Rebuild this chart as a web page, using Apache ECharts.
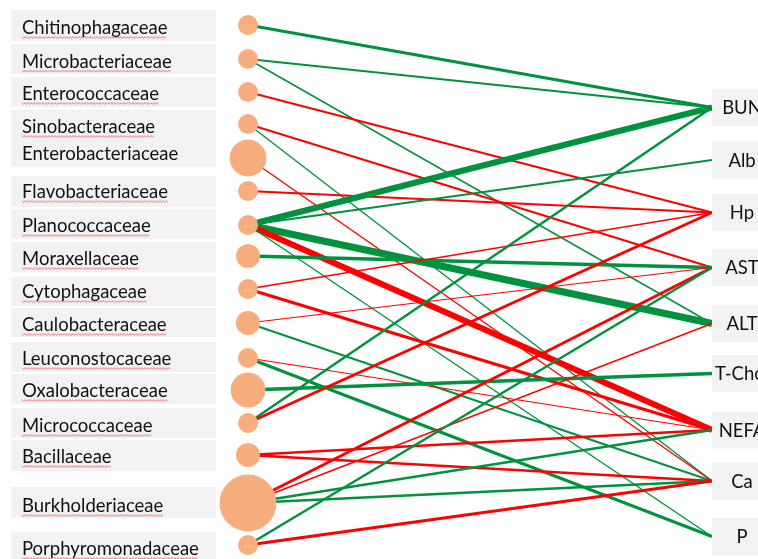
<!DOCTYPE html>
<html>
<head>
<meta charset="utf-8">
<script src="https://cdn.jsdelivr.net/npm/echarts@6/dist/echarts.min.js"></script>
<style>
html,body{margin:0;padding:0;background:#fff;}
#c{width:758px;height:559px;}
</style>
</head>
<body>
<div id="c"></div>
<script>
// ---------------- DATA ----------------
const bacteria = ['Chitinophagaceae','Microbacteriaceae','Enterococcaceae','Sinobacteraceae','Enterobacteriaceae',
  'Flavobacteriaceae','Planococcaceae','Moraxellaceae','Cytophagaceae','Caulobacteraceae','Leuconostocaceae',
  'Oxalobacteraceae','Micrococcaceae','Bacillaceae','Burkholderiaceae','Porphyromonadaceae'];
// relative abundance (circle area)
const abundance = [1, 1, 1, 1, 3.4, 1, 1, 1.45, 1, 1.45, 1, 3.05, 1, 1.45, 8.1, 1];

const parameters = ['BUN','Alb','Hp','AST','ALT','T-Chol','NEFA','Ca','P'];

// correlations (sign: green positive / red negative, magnitude -> line width)
const linkFrom = ['Chitinophagaceae','Microbacteriaceae','Microbacteriaceae','Enterococcaceae','Sinobacteraceae',
  'Sinobacteraceae','Enterobacteriaceae','Flavobacteriaceae','Planococcaceae','Planococcaceae','Planococcaceae',
  'Planococcaceae','Planococcaceae','Moraxellaceae','Cytophagaceae','Cytophagaceae','Caulobacteraceae',
  'Caulobacteraceae','Leuconostocaceae','Leuconostocaceae','Oxalobacteraceae','Micrococcaceae','Micrococcaceae',
  'Bacillaceae','Bacillaceae','Burkholderiaceae','Burkholderiaceae','Burkholderiaceae','Burkholderiaceae',
  'Porphyromonadaceae','Porphyromonadaceae'];
const linkTo = ['BUN','BUN','ALT','Hp','AST',
  'Ca','Ca','Hp','BUN','Alb','ALT',
  'NEFA','P','AST','Hp','NEFA','AST',
  'Ca','NEFA','P','T-Chol','BUN','Hp',
  'NEFA','Ca','AST','ALT','NEFA','Ca',
  'AST','Ca'];
const linkR = [0.62, 0.58, 0.56, -0.58, -0.58,
  0.556, -0.556, -0.58, 0.74, 0.58, 0.78,
  -0.75, 0.556, 0.64, -0.56, -0.62, -0.548,
  0.58, -0.548, 0.62, 0.64, 0.60, -0.62,
  -0.60, -0.60, -0.62, -0.556, 0.60, 0.60,
  0.60, -0.62];

// ---------------- LAYOUT ----------------
const bacteriaRow = [25, 59, 92, 124, 158, 191, 225, 256, 289, 323, 358, 390, 423, 455, 503, 545];
const bacteriaTextRow = [28, 61.7, 94, 127, 154, 192, 226, 259, 292, 325, 359, 391, 426, 457, 506, 549];
const labelBoxes = [[10,41],[44,74],[77,107],[110,167],[176,207],[209,239],[242,272],[277,306],[308,337],
  [342,372],[374,404],[408,438],[440,471],[487,518],[532,562]];
const paramRow = [107.5, 160, 212.5, 267.5, 323.5, 373.5, 430, 481, 536.5];

const NODE_X = 248, PARAM_X = 712, BOX_L = 11, BOX_R = 216, TEXT_X = 22, PBOX_W = 60, PBOX_H = 37;
const FONT_SIZE = 18.5, FONT_FAMILY = 'Lato';
const GREEN = '#00923F', RED = '#FF0000', NODE_COLOR = '#F6AE7E', BOX_COLOR = '#F2F2F2';
const noSquiggle = ['Enterobacteriaceae'];

const measureCtx = document.createElement('canvas').getContext('2d');
measureCtx.font = FONT_SIZE + 'px ' + FONT_FAMILY;

const chart = echarts.init(document.getElementById('c'));

const nodes = bacteria.map((b, i) => ({
  name: b, value: [NODE_X, bacteriaRow[i]],
  symbolSize: 20 * Math.sqrt(abundance[i]),
  itemStyle: { color: NODE_COLOR }
})).concat(parameters.map((p, i) => ({
  name: p, value: [PARAM_X, paramRow[i]], symbolSize: 1, itemStyle: { opacity: 0 }
})));

const links = linkFrom.map((s, i) => ({
  source: s, target: linkTo[i],
  lineStyle: { width: (Math.abs(linkR[i]) - 0.5) * 25, color: linkR[i] > 0 ? GREEN : RED, opacity: 1, curveness: 0 }
}));

function squiggle(x0, x1, y) {
  const pts = [];
  let up = true;
  for (let x = x0; x <= x1; x += 1.5) { pts.push([x, y + (up ? -0.9 : 0.9)]); up = !up; }
  return pts;
}

const option = {
  animation: false,
  grid: { left: 0, right: 0, top: 0, bottom: 0 },
  xAxis: { type: 'value', min: 0, max: 758, show: false },
  yAxis: { type: 'value', min: 0, max: 559, inverse: true, show: false },
  series: [
    {
      type: 'custom', coordinateSystem: 'cartesian2d', z: 1, silent: true,
      data: labelBoxes.map(b => [b[0], b[1]]),
      renderItem: function (params, api) {
        const p0 = api.coord([BOX_L, api.value(0)]);
        const p1 = api.coord([BOX_R, api.value(1)]);
        return { type: 'rect', shape: { x: p0[0], y: p0[1], width: p1[0] - p0[0], height: p1[1] - p0[1] },
          style: { fill: BOX_COLOR } };
      }
    },
    {
      type: 'custom', coordinateSystem: 'cartesian2d', z: 4, silent: true,
      data: bacteria.map((b, i) => [TEXT_X, bacteriaTextRow[i]]),
      renderItem: function (params, api) {
        const name = bacteria[params.dataIndex];
        const p = api.coord([api.value(0), api.value(1)]);
        const children = [{
          type: 'text', style: { text: name, x: p[0], y: p[1], fill: '#111',
            font: FONT_SIZE + 'px ' + FONT_FAMILY, align: 'left', verticalAlign: 'middle' }
        }];
        if (noSquiggle.indexOf(name) < 0) {
          const w = measureCtx.measureText(name).width;
          children.push({ type: 'polyline', shape: { points: squiggle(p[0], p[0] + w, p[1] + 9.5) },
            style: { stroke: 'rgba(235,60,60,0.75)', lineWidth: 0.8, fill: null } });
        }
        return { type: 'group', children: children };
      }
    },
    {
      type: 'graph', coordinateSystem: 'cartesian2d', layout: 'none', z: 2, silent: true,
      symbol: 'circle', data: nodes, links: links, edgeSymbol: ['none', 'none'],
      label: { show: false }, emphasis: { disabled: true },
      lineStyle: { opacity: 1, curveness: 0 }
    },
    {
      type: 'custom', coordinateSystem: 'cartesian2d', z: 3, silent: true,
      data: parameters.map((p, i) => [PARAM_X, paramRow[i]]),
      renderItem: function (params, api) {
        const p = api.coord([api.value(0), api.value(1)]);
        return { type: 'group', children: [
          { type: 'rect', shape: { x: p[0], y: p[1] - PBOX_H / 2, width: PBOX_W, height: PBOX_H }, style: { fill: BOX_COLOR } },
          { type: 'text', style: { text: parameters[params.dataIndex], x: p[0] + PBOX_W / 2, y: p[1] + 1, fill: '#111',
            font: FONT_SIZE + 'px ' + FONT_FAMILY, align: 'center', verticalAlign: 'middle' } }
        ] };
      }
    }
  ]
};
chart.setOption(option);
</script>
</body>
</html>
